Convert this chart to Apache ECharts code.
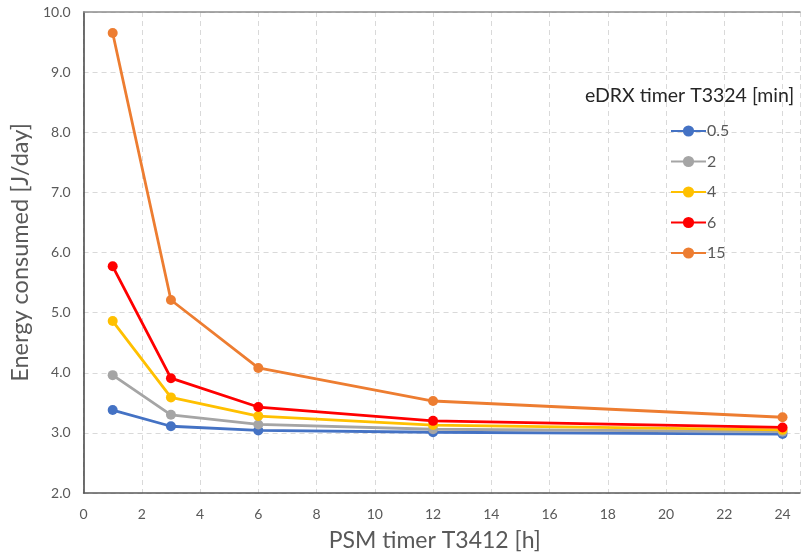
<!DOCTYPE html>
<html>
<head>
<meta charset="utf-8">
<script src="https://cdn.jsdelivr.net/npm/echarts@6/dist/echarts.min.js"></script>
<style>
  html, body { margin: 0; padding: 0; background: #fff; }
  #chart { width: 803px; height: 560px; }
</style>
</head>
<body>
<div id="chart"></div>
<script>
// PSM timer T3412 values [h]
const psmHours = [1, 3, 6, 12, 24];

// eDRX timer T3324 settings [min]
const edrxLabels = ['0.5', '2', '4', '6', '15'];

// Energy consumed [J/day] for each eDRX setting
const energy05 = [3.38, 3.11, 3.04, 3.01, 2.98];
const energy2  = [3.96, 3.30, 3.14, 3.06, 3.02];
const energy4  = [4.86, 3.59, 3.28, 3.13, 3.05];
const energy6  = [5.77, 3.91, 3.43, 3.20, 3.09];
const energy15 = [9.65, 5.21, 4.08, 3.53, 3.26];

const seriesColors = ['#4472C4', '#A5A5A5', '#FFC000', '#FF0000', '#ED7D31'];
const allEnergy = [energy05, energy2, energy4, energy6, energy15];

const font = 'Lato, "Open Sans", sans-serif';
const textGray = '#595959';

const chart = echarts.init(document.getElementById('chart'), null, { renderer: 'canvas' });

const series = edrxLabels.map((name, i) => ({
  name: name,
  type: 'line',
  data: psmHours.map((h, j) => [h, allEnergy[i][j]]),
  symbol: 'circle',
  symbolSize: 10,
  lineStyle: { width: 2.8, color: seriesColors[i] },
  itemStyle: { color: seriesColors[i] },
  emphasis: { disabled: true },
  z: 3 + i
}));

chart.setOption({
  animation: false,
  backgroundColor: '#fff',
  textStyle: { fontFamily: font },
  title: {
    text: 'eDRX timer T3324 [min]',
    left: 580,
    top: 81,
    textStyle: { fontFamily: font, fontSize: 19.5, fontWeight: 'normal', color: '#262626' }
  },
  legend: {
    orient: 'vertical',
    left: 665,
    top: 118,
    itemWidth: 35,
    itemHeight: 14,
    itemGap: 14.5,
    data: edrxLabels,
    textStyle: { fontFamily: font, fontSize: 16, color: textGray, padding: [0, 0, 0, -4] }
  },
  grid: { left: 80, top: 12, right: 0, bottom: 67, containLabel: false },
  xAxis: [{
    type: 'value',
    min: 0,
    max: 24.6,
    interval: 2,
    name: 'PSM timer T3412 [h]',
    nameLocation: 'middle',
    nameGap: 36,
    nameTextStyle: { fontFamily: font, fontSize: 23, color: textGray, padding: [0, 14, 0, 0] },
    axisLine: { show: true, lineStyle: { color: '#595959', width: 1.5 } },
    axisTick: { show: false },
    axisLabel: {
      fontFamily: font, fontSize: 14, color: textGray, margin: 14,
      formatter: v => (v % 2 === 0 ? String(v) : '')
    },
    splitLine: { show: true, lineStyle: { color: '#D9D9D9', type: [5, 4], width: 1 } }
  }, {
    type: 'value',
    position: 'top',
    min: 0,
    max: 24.6,
    axisLine: { show: true, lineStyle: { color: '#8C8C8C', width: 1.5 } },
    axisTick: { show: false },
    axisLabel: { show: false },
    splitLine: { show: false }
  }],
  yAxis: {
    type: 'value',
    min: 2,
    max: 10,
    interval: 1,
    name: 'Energy consumed [J/day]',
    nameLocation: 'middle',
    nameGap: 40,
    nameTextStyle: { fontFamily: font, fontSize: 23.5, color: textGray },
    axisLine: { show: true, lineStyle: { color: '#404040', width: 1.5 } },
    axisTick: { show: false },
    axisLabel: {
      fontFamily: font, fontSize: 14, color: textGray, margin: 13,
      formatter: v => v.toFixed(1)
    },
    splitLine: { show: true, lineStyle: { color: '#D9D9D9', type: [5, 4], width: 1 } }
  },
  series: series
});
</script>
</body>
</html>
